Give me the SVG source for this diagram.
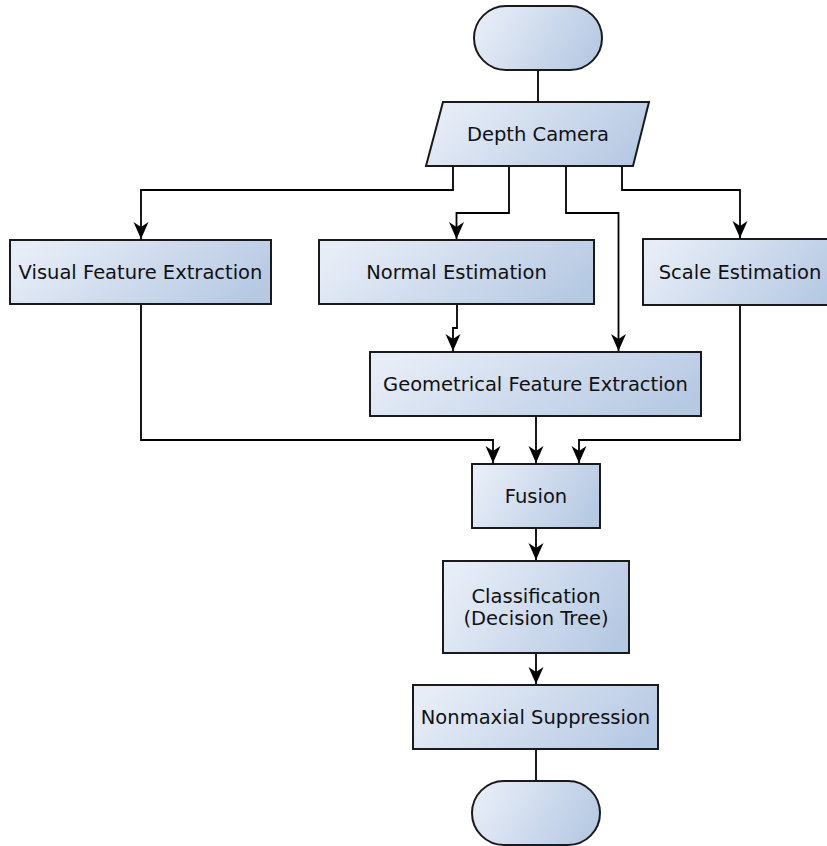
<svg xmlns="http://www.w3.org/2000/svg" width="827" height="846" viewBox="0 0 827 846">
  <defs>
    <linearGradient id="boxFill" x1="0" y1="0.35" x2="1" y2="0.65">
      <stop offset="0" stop-color="#e7edf7"/>
      <stop offset="1" stop-color="#b6c9e3"/>
    </linearGradient>
    <marker id="arrow" viewBox="-19 -9 20 18" refX="0" refY="0" markerWidth="20" markerHeight="18" markerUnits="userSpaceOnUse" orient="auto">
      <path d="M0,0 L-17,-7.5 L-12,0 L-17,7.5 Z" fill="#000"/>
    </marker>
    <style>
      .shape { fill: url(#boxFill); stroke: #1a1a1a; stroke-width: 2; }
      .label { font-family: "DejaVu Sans", "Liberation Sans", sans-serif; font-size: 19.5px; fill: #111; text-anchor: middle; }
      .link { fill: none; stroke: #000; stroke-width: 1.8; }
      .arrowed { marker-end: url(#arrow); }
    </style>
  </defs>

  <!-- connectors -->
  <g id="connectors">
    <path class="link" d="M538,70 V102"/>
    <path class="link arrowed" d="M453,166 V190 H141 V239"/>
    <path class="link arrowed" d="M509,166 V213 H456.5 V239"/>
    <path class="link arrowed" d="M566,166 V213 H618.5 V351"/>
    <path class="link arrowed" d="M622,166 V190 H740 V238"/>
    <path class="link arrowed" d="M457,304 V328 H453 V351"/>
    <path class="link arrowed" d="M141,304 V440 H493 V463"/>
    <path class="link arrowed" d="M536,416 V463"/>
    <path class="link arrowed" d="M740,305 V440 H579 V463"/>
    <path class="link arrowed" d="M536,528 V560"/>
    <path class="link arrowed" d="M536,653 V684"/>
    <path class="link" d="M536,749 V781"/>
  </g>

  <!-- nodes -->
  <g id="start">
    <rect class="shape" x="474" y="6" width="128" height="64" rx="32" ry="32"/>
  </g>

  <g id="depth-camera">
    <polygon class="shape" points="443,102 649,102 633,166 426,166"/>
    <text class="label" x="538" y="141">Depth Camera</text>
  </g>

  <g id="visual-feature-extraction">
    <rect class="shape" x="10" y="240" width="261" height="64"/>
    <text class="label" x="140.5" y="279">Visual Feature Extraction</text>
  </g>

  <g id="normal-estimation">
    <rect class="shape" x="319" y="240" width="275" height="64"/>
    <text class="label" x="456.5" y="279">Normal Estimation</text>
  </g>

  <g id="scale-estimation">
    <rect class="shape" x="643" y="239" width="194" height="66"/>
    <text class="label" x="740" y="279">Scale Estimation</text>
  </g>

  <g id="geometrical-feature-extraction">
    <rect class="shape" x="370" y="352" width="331" height="64"/>
    <text class="label" x="535.5" y="391">Geometrical Feature Extraction</text>
  </g>

  <g id="fusion">
    <rect class="shape" x="472" y="464" width="128" height="64"/>
    <text class="label" x="536" y="503">Fusion</text>
  </g>

  <g id="classification">
    <rect class="shape" x="443" y="561" width="186" height="92"/>
    <text class="label" x="536" y="603">Classification</text>
    <text class="label" x="536" y="625">(Decision Tree)</text>
  </g>

  <g id="nonmaxial-suppression">
    <rect class="shape" x="413" y="685" width="245" height="64"/>
    <text class="label" x="535.5" y="724">Nonmaxial Suppression</text>
  </g>

  <g id="end">
    <rect class="shape" x="472" y="781" width="128" height="64" rx="32" ry="32"/>
  </g>
</svg>
